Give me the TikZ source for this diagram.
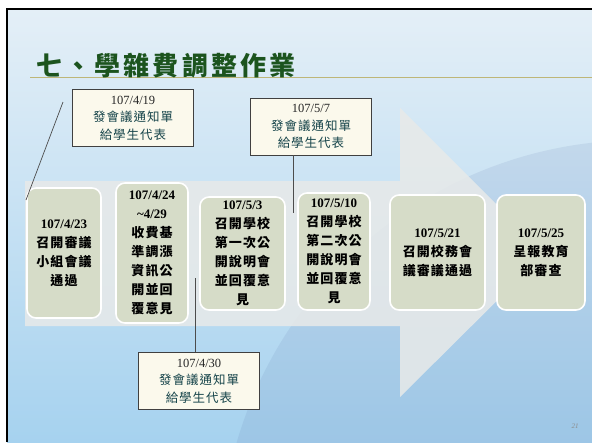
\documentclass[tikz,border=0pt]{standalone}
\usepackage{fontspec}
\setmainfont{Liberation Serif}
\newfontfamily\cjk[LetterSpace=8]{Noto Sans CJK TC}
\newfontfamily\cjktitle[LetterSpace=12]{Noto Sans CJK TC}
\definecolor{sage}{RGB}{214,220,200}
\definecolor{paper}{RGB}{251,249,236}
\definecolor{skytop}{RGB}{228,239,247}
\definecolor{skybot}{RGB}{166,210,239}
\definecolor{titlegreen}{RGB}{28,84,30}
\definecolor{inkteal}{RGB}{22,68,74}
\definecolor{rulegold}{RGB}{190,182,120}
\definecolor{haze}{RGB}{232,234,233}
\tikzstyle{stage}=[rectangle, rounded corners=9pt, draw=white, line width=1.6pt, fill=sage, align=center, inner sep=2pt, font=\cjk\bfseries\fontsize{13}{19}\selectfont]
\tikzstyle{notice}=[rectangle, draw=black!75, line width=0.7pt, fill=paper, align=center, minimum width=121pt, minimum height=57pt, text=inkteal, font=\cjk\fontsize{12.5}{17.5}\selectfont]
\tikzstyle{link}=[draw=black!70, line width=0.7pt]
\begin{document}
\begin{tikzpicture}[x=1pt, y=-1pt]
\useasboundingbox (0,0) rectangle (592,442);
\fill[white] (0,0) rectangle (592,442);
\shade[top color=skytop, bottom color=skybot] (7,9) rectangle (592,442);
\begin{scope}
\clip (7,9) rectangle (592,442);
\fill[skybot!80!blue!70!black, opacity=0.12] (640,560) circle (420);
\end{scope}
\fill[haze, opacity=0.85] (25,181) -- (400,181) -- (400,108) -- (545,253) -- (400,397) -- (400,326) -- (25,326) -- cycle;
\draw[line width=2pt] (7,442) -- (7,9) -- (592,9);
\draw[rulegold, line width=0.8pt] (30,77) -- (592,77);
\node[anchor=west, font=\cjktitle\bfseries\fontsize{26}{26}\selectfont, text=titlegreen] (title) at (33,66) {七、學雜費調整作業};
\node[stage, minimum width=74pt, minimum height=130pt] (s423) at (64,253) {{\rmfamily 107/4/23}\\召開審議\\小組會議\\通過};
\node[stage, minimum width=72pt, minimum height=140pt] (s424) at (152,253) {{\rmfamily 107/4/24}\\{\rmfamily \textasciitilde4/29}\\收費基\\準調漲\\資訊公\\開並回\\覆意見};
\node[stage, minimum width=85pt, minimum height=113pt] (s503) at (242.5,253.5) {{\rmfamily 107/5/3}\\召開學校\\第一次公\\開說明會\\並回覆意\\見};
\node[stage, minimum width=72pt, minimum height=117pt] (s510) at (334,251.5) {{\rmfamily 107/5/10}\\召開學校\\第二次公\\開說明會\\並回覆意\\見};
\node[stage, minimum width=95pt, minimum height=115pt] (s521) at (437.5,252.5) {{\rmfamily 107/5/21}\\召開校務會\\議審議通過};
\node[stage, minimum width=88pt, minimum height=115pt] (s525) at (541,252.5) {{\rmfamily 107/5/25}\\呈報教育\\部審查};
\node[notice] (n419) at (133,118) {{\rmfamily\color{black!85}107/4/19}\\發會議通知單\\給學生代表};
\node[notice] (n507) at (311,126.5) {{\rmfamily\color{black!85}107/5/7}\\發會議通知單\\給學生代表};
\node[notice] (n430) at (199,381) {{\rmfamily\color{black!85}107/4/30}\\發會議通知單\\給學生代表};
\coordinate (a1) at (63,102);
\coordinate (a2) at (26,200);
\coordinate (b1) at (293,213);
\coordinate (c1) at (195,278);
\draw[link] (a1) -- (a2);
\draw[link] (n507.south -| b1) -- (b1);
\draw[link] (c1) -- (c1 |- n430.north);
\node[font=\rmfamily\itshape\fontsize{7}{7}\selectfont, text=black!45] (page) at (575,426) {21};
\end{tikzpicture}
\end{document}
